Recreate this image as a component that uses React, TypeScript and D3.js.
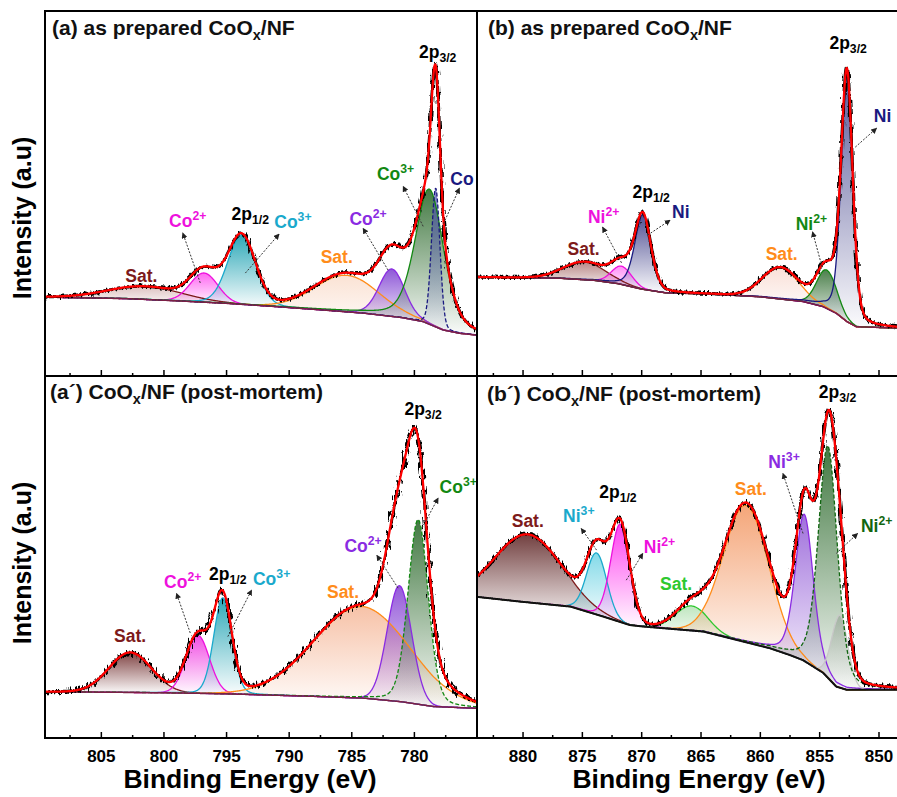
import React from 'react'
import * as d3 from 'd3'

// ---------- data ----------
// background (Shirley) as [binding energy eV, intensity a.u.]
// peaks as [label, centre eV, height above background, FWHM eV, lorentzian fraction]
// labels as [text, eV, intensity, peak index (-1 = black)]
// arrows as [from eV, from intensity, to eV, to intensity]

// (a) as prepared, Co 2p
const A_BG = [[809.5, 21.6], [803, 21.2], [799, 20.6], [795, 19.9], [791, 19.0], [787, 18.0], [784, 17.2], [781, 16.0], [779.3, 14.9], [777.7, 12.6], [776.4, 11.7], [775, 11.2]]
const A_PEAKS = [
  ['Sat.', 801.5, 3.5, 7.0, 0],
  ['Co2+', 796.8, 8.0, 2.6, 0],
  ['Co3+', 793.8, 19.0, 2.6, 0.1],
  ['Sat.', 785.4, 10.0, 6.0, 0],
  ['Co2+', 781.8, 13.0, 2.4, 0.1],
  ['Co3+', 778.8, 37.0, 2.7, 0.35],
  ['Co', 778.3, 38.0, 0.8, 0.1],
]
const A_LABELS = [
  ['2p_3/2', 778.14, 87.1, -1], ['Co^3+', 781.5, 53.7, 5], ['Co', 776.2, 52.3, 6],
  ['Co^2+', 783.7, 41.4, 4], ['Sat.', 786.2, 31.0, 3], ['2p_1/2', 793.1, 42.7, -1],
  ['Co^3+', 789.7, 40.5, 2], ['Co^2+', 798.1, 40.8, 1], ['Sat.', 801.8, 25.8, 0],
]
const A_ARROWS = [[797.1, 25.5, 798.5, 39.2], [793.5, 28.2, 790.8, 38.9], [782.1, 29, 784.1, 40.5], [779.3, 41, 780.9, 52], [777.9, 40, 776.4, 51.5]]

// (b) as prepared, Ni 2p
const B_BG = [[883.9, 27.1], [877, 26.8], [874, 26.2], [872, 25.3], [870, 23.8], [868, 22.8], [864, 22.4], [860, 21.7], [856.4, 20.4], [854.7, 19.0], [853.6, 17.2], [852.7, 14.9], [851.9, 13.5], [848.2, 13.1]]
const B_PEAKS = [
  ['Sat.', 874.8, 4.8, 4.2, 0],
  ['Ni2+', 871.7, 5.0, 2.0, 0],
  ['Ni', 869.9, 20.5, 1.6, 0.3],
  ['Sat.', 858.3, 8.5, 3.6, 0],
  ['Ni2+', 854.4, 10.5, 2.0, 0],
  ['Ni', 852.7, 68.0, 1.15, 0.3],
]
const B_LABELS = [
  ['2p_3/2', 852.6, 89.6, -1], ['Ni', 849.7, 69.6, 5], ['Ni^2+', 855.7, 40.0, 4],
  ['Sat.', 858.2, 31.8, 3], ['2p_1/2', 869.2, 48.8, -1], ['Ni', 866.7, 43.3, 2],
  ['Ni^2+', 873.2, 41.9, 1], ['Sat.', 874.9, 33.2, 0],
]
const B_ARROWS = [[871.7, 31, 873.3, 40.8], [869.5, 38.6, 867.6, 42.7], [854.8, 29.9, 855.6, 39.5], [852.0, 62.7, 850.2, 67.9]]

// (a´) post-mortem, Co 2p
const AP_BG = [[809.5, 12.8], [800, 12.5], [795, 12.2], [792, 11.9], [788, 11.5], [784, 11.0], [781, 10.0], [778.5, 8.7], [775, 8.2]]
const AP_PEAKS = [
  ['Sat.', 802.7, 11.0, 4.0, 0],
  ['Co2+', 797.3, 16.0, 2.2, 0],
  ['Co3+', 795.3, 26.5, 1.7, 0.1],
  ['Sat.', 784.2, 25.3, 9.0, 0],
  ['Co2+', 781.2, 32.0, 2.3, 0],
  ['Co3+', 779.7, 51.0, 1.9, 0.2],
]
const AP_LABELS = [
  ['2p_3/2', 779.3, 89.2, -1], ['Co^3+', 776.5, 67.7, 5], ['Co^2+', 784.1, 51.4, 4],
  ['Sat.', 785.7, 38.7, 3], ['2p_1/2', 794.9, 43.6, -1], ['Co^3+', 791.4, 42.3, 2],
  ['Co^2+', 798.5, 41.4, 1], ['Sat.', 802.7, 26.5, 0],
]
const AP_ARROWS = [[797.9, 29, 799.0, 40], [794.9, 28, 793.0, 40.9], [781.3, 41.4, 783.0, 50.5], [779.4, 58, 778.1, 66.3]]

// (b´) post-mortem, Ni 2p
const BP_BG = [[883.9, 39.0], [880.3, 37.7], [876, 36.3], [873.2, 33.5], [871, 31.2], [869.9, 30.8], [864.8, 29.4], [862, 27.1], [859.2, 24.8], [857.5, 22.9], [856.4, 21.5], [854.7, 18.0], [853.6, 14.2], [852.7, 13.3], [848.2, 13.3]]
const BP_PEAKS = [
  ['Sat.', 879.6, 18.7, 6.5, 0],
  ['Ni3+', 873.8, 17.0, 2.0, 0],
  ['Ni2+', 871.8, 27.0, 1.9, 0.1],
  ['Sat.', 865.8, 6.8, 3.2, 0],
  ['Sat.', 861.2, 37.8, 4.5, 0],
  ['Ni3+', 856.3, 40.5, 1.8, 0.3],
  ['Ni', 853.3, 20.0, 1.6, 0],
  ['Ni2+', 854.3, 64.0, 1.9, 0.3],
]
const BP_LABELS = [
  ['2p_3/2', 853.5, 93.9, -1], ['Ni^3+', 858.0, 74.6, 5], ['Sat.', 860.8, 67.1, 4],
  ['Ni^2+', 850.2, 57.0, 7], ['2p_1/2', 872.0, 66.3, -1], ['Ni^3+', 875.3, 59.8, 1],
  ['Ni^2+', 868.5, 51.0, 2], ['Sat.', 879.6, 58.4, 0], ['Sat.', 867.1, 40.9, 3],
]
const BP_ARROWS = [[873.8, 51.9, 875.1, 57.9], [871.3, 43.6, 869.9, 51.0], [856.4, 56.5, 858.1, 73.1], [853.6, 51.0, 851.8, 56.5]]

const CO_TICKS = [805, 800, 795, 790, 785, 780]
const NI_TICKS = [880, 875, 870, 865, 860, 855, 850]

// ---------- styles: [stroke, fill, top opacity, dashed] ----------
const BROWN = '#7d1a1a', MAG = '#ee11dd', CYAN = '#1aa9cc', ORANGE = '#ff8c1a'
const PURPLE = '#8a2be2', GREEN = '#128812', NAVY = '#1a1a80', LGREEN = '#2ec82e'
const A_STYLE = [[BROWN, '#a05050', 0.35, 0], [MAG, '#ff33ee', 0.75, 0], [CYAN, '#179fb0', 0.9, 0], [ORANGE, '#f0a070', 0.3, 0], [PURPLE, '#7a3ad0', 0.85, 0], [GREEN, '#2d6a2d', 0.9, 0], [NAVY, '#5050b0', 0.75, 1]]
const B_STYLE = [[BROWN, '#8b3a3a', 0.6, 0], [MAG, '#ff33ee', 0.55, 0], [NAVY, '#303080', 0.85, 0], [ORANGE, '#f0a890', 0.35, 0], [GREEN, '#2d6a2d', 0.85, 0], [NAVY, '#303080', 0.8, 0]]
const AP_STYLE = [[BROWN, '#6b2525', 0.85, 0], [MAG, '#ee22dd', 0.8, 0], [CYAN, '#179fb0', 0.9, 0], [ORANGE, '#f09060', 0.55, 0], [PURPLE, '#7a30d0', 0.8, 0], [GREEN, '#2d6a2d', 0.9, 1]]
const BP_STYLE = [[BROWN, '#5a1f1f', 0.85, 0], [CYAN, '#30c0d8', 0.6, 0], [MAG, '#ff22ee', 0.85, 0], [LGREEN, '#60c060', 0.4, 0], [ORANGE, '#f08040', 0.7, 0], [PURPLE, '#8040d0', 0.75, 0], ['#c8c8c8', '#9a9a9a', 0.45, 0], ['#116611', '#2d6a2d', 0.9, 1]]

const FONT = 'Liberation Sans, Arial, Helvetica, sans-serif'

const PANELS = [
  { key: 'a', title: ['(a) as prepared CoO', 'x', '/NF'], tx: 52, ty: 35, x0: 45, x1: 477, y0: 11, y1: 376, dom: [809.5, 775], bg: A_BG, peaks: A_PEAKS, style: A_STYLE, labels: A_LABELS, arrows: A_ARROWS, bgColor: '#7b1f45', noise: 7, ticks: CO_TICKS, tickLabels: false },
  { key: 'b', title: ['(b) as prepared CoO', 'x', '/NF'], tx: 488, ty: 35, x0: 477, x1: 900, y0: 11, y1: 376, dom: [883.88, 848.23], bg: B_BG, peaks: B_PEAKS, style: B_STYLE, labels: B_LABELS, arrows: B_ARROWS, bgColor: '#7b1f45', noise: 6, ticks: NI_TICKS, tickLabels: false },
  { key: 'ap', title: ['(a´) CoO', 'x', '/NF (post-mortem)'], tx: 50, ty: 399, x0: 45, x1: 477, y0: 376, y1: 738, dom: [809.5, 775], bg: AP_BG, peaks: AP_PEAKS, style: AP_STYLE, labels: AP_LABELS, arrows: AP_ARROWS, bgColor: '#7b1f45', noise: 12, ticks: CO_TICKS, tickLabels: true },
  { key: 'bp', title: ['(b´) CoO', 'x', '/NF (post-mortem)'], tx: 487, ty: 401, x0: 477, x1: 900, y0: 376, y1: 738, dom: [883.88, 848.23], bg: BP_BG, peaks: BP_PEAKS, style: BP_STYLE, labels: BP_LABELS, arrows: BP_ARROWS, bgColor: '#111', noise: 7, ticks: NI_TICKS, tickLabels: true },
]

const K = 4 * Math.LN2
function profile(e, pk) {
  const d = (e - pk[1]) / pk[3]
  return pk[2] * ((1 - pk[4]) * Math.exp(-K * d * d) + pk[4] / (1 + 4 * d * d))
}

function Rich({ text, x, y, fill, size = 17.5 }) {
  let base = text, sup = null, sub = null
  if (text.includes('^')) [base, sup] = text.split('^')
  else if (text.includes('_')) [base, sub] = text.split('_')
  return (
    <text x={x} y={y} textAnchor="middle" fontSize={size} fontWeight="bold" fill={fill}>
      {base}
      {sup && <tspan dy={-7} fontSize={size * 0.7}>{sup}</tspan>}
      {sub && <tspan dy={4} fontSize={size * 0.7}>{sub}</tspan>}
    </text>
  )
}

function Panel({ p }) {
  const x = d3.scaleLinear().domain(p.dom).range([p.x0, p.x1])
  const y = d3.scaleLinear().domain([0, 100]).range([p.y1, p.y0])
  const bgAt = d3.scaleLinear().domain(p.bg.map(d => d[0])).range(p.bg.map(d => d[1])).clamp(true)
  const lo = Math.min(...p.dom), hi = Math.max(...p.dom)
  const grid = d3.range(lo, hi + 1e-6, 0.04)

  const line = d3.line().x(d => x(d[0])).y(d => y(d[1])).curve(d3.curveMonotoneX)
  const area = d3.area().x(d => x(d[0])).y0(d => y(d[2])).y1(d => y(d[1])).curve(d3.curveMonotoneX)

  const comps = p.peaks.map(pk => grid.map(e => [e, bgAt(e) + profile(e, pk), bgAt(e)]))
  const env = grid.map(e => [e, bgAt(e) + d3.sum(p.peaks, pk => profile(e, pk))])
  const bgPts = grid.map(e => [e, bgAt(e)])

  const id = p.key
  const minorTicks = d3.range(Math.ceil(lo / 2.5) * 2.5, hi, 2.5).filter(t => t % 5 !== 0)

  return (
    <g>
      <defs>
        <clipPath id={`clip-${id}`}><rect x={p.x0} y={p.y0} width={p.x1 - p.x0} height={p.y1 - p.y0} /></clipPath>
        {p.style.map((s, i) => (
          <linearGradient key={i} id={`grad-${id}-${i}`} x1="0" y1="0" x2="0" y2="1">
            <stop offset="0" stopColor={s[1]} stopOpacity={s[2]} />
            <stop offset="1" stopColor={s[1]} stopOpacity={0.02} />
          </linearGradient>
        ))}
        <filter id={`noise-${id}`} filterUnits="userSpaceOnUse" x={p.x0 - 10} y={p.y0} width={p.x1 - p.x0 + 20} height={p.y1 - p.y0}>
          <feTurbulence type="fractalNoise" baseFrequency="0.5 0.1" numOctaves="2" seed="7" result="t" />
          <feDisplacementMap in="SourceGraphic" in2="t" scale={p.noise} xChannelSelector="R" yChannelSelector="G" />
        </filter>
      </defs>

      <g clipPath={`url(#clip-${id})`}>
        {comps.map((c, i) => {
          const pk = p.peaks[i]
          const part = c.filter(d => d[1] - d[2] > pk[2] * 0.01)
          return <path key={i} d={area(part)} fill={`url(#grad-${id}-${i})`} />
        })}
        {comps.map((c, i) => (
          <path key={i} d={line(c)} fill="none" stroke={p.style[i][0]} strokeWidth={1.3} strokeDasharray={p.style[i][3] ? '4,2' : null} />
        ))}
        <path d={line(bgPts)} fill="none" stroke={p.bgColor} strokeWidth={id === 'bp' ? 2 : 1.5} />
        <path d={line(env)} fill="none" stroke="#000" strokeWidth={3.2} filter={`url(#noise-${id})`} />
        <path d={line(env)} fill="none" stroke="#ff0000" strokeWidth={2.3} />
      </g>

      {p.arrows.map((a, i) => (
        <line key={i} x1={x(a[0])} y1={y(a[1])} x2={x(a[2])} y2={y(a[3])} stroke="#333" strokeWidth={1} strokeDasharray="2,1.5" markerEnd="url(#arrowhead)" />
      ))}
      {p.labels.map((l, i) => (
        <Rich key={i} text={l[0]} x={x(l[1])} y={y(l[2])} fill={l[3] < 0 ? '#000' : p.style[l[3]][0]} />
      ))}

      <text x={p.tx} y={p.ty} fontSize={21} fontWeight="bold" fill="#111">
        {p.title[0]}
        <tspan dy={5} fontSize={14.5}>{p.title[1]}</tspan>
        <tspan dy={-5}>{p.title[2]}</tspan>
      </text>

      {p.ticks.map(t => (
        <line key={t} x1={x(t)} x2={x(t)} y1={p.y1} y2={p.y1 - 6} stroke="#000" strokeWidth={1.5} />
      ))}
      {minorTicks.map(t => (
        <line key={t} x1={x(t)} x2={x(t)} y1={p.y1} y2={p.y1 - 3} stroke="#000" strokeWidth={1.5} />
      ))}
      {p.tickLabels && p.ticks.map(t => (
        <text key={t} x={x(t)} y={761.5} textAnchor="middle" fontSize={17} fontWeight="bold">{t}</text>
      ))}
    </g>
  )
}

export default function App() {
  return (
    <svg width={897} height={797} fontFamily={FONT} style={{ position: 'absolute', left: 0, top: 0, background: '#fff' }}>
      <defs>
        <marker id="arrowhead" viewBox="0 0 10 10" refX="9" refY="5" markerWidth="6" markerHeight="6" orient="auto">
          <path d="M0,0 L10,5 L0,10 z" fill="#222" />
        </marker>
      </defs>
      {PANELS.map(p => <Panel key={p.key} p={p} />)}

      <rect x={45} y={11} width={855} height={727} fill="none" stroke="#000" strokeWidth={2} />
      <line x1={45} x2={900} y1={376} y2={376} stroke="#000" strokeWidth={2} />
      <line x1={477} x2={477} y1={11} y2={738} stroke="#000" strokeWidth={2} />

      <text transform="translate(31,218) rotate(-90)" textAnchor="middle" fontSize={25} fontWeight="bold">Intensity (a.u)</text>
      <text transform="translate(31,563) rotate(-90)" textAnchor="middle" fontSize={25} fontWeight="bold">Intensity (a.u)</text>
      <text x={250} y={788} textAnchor="middle" fontSize={26.5} fontWeight="bold">Binding Energy (eV)</text>
      <text x={699} y={788} textAnchor="middle" fontSize={26.5} fontWeight="bold">Binding Energy (eV)</text>
    </svg>
  )
}
